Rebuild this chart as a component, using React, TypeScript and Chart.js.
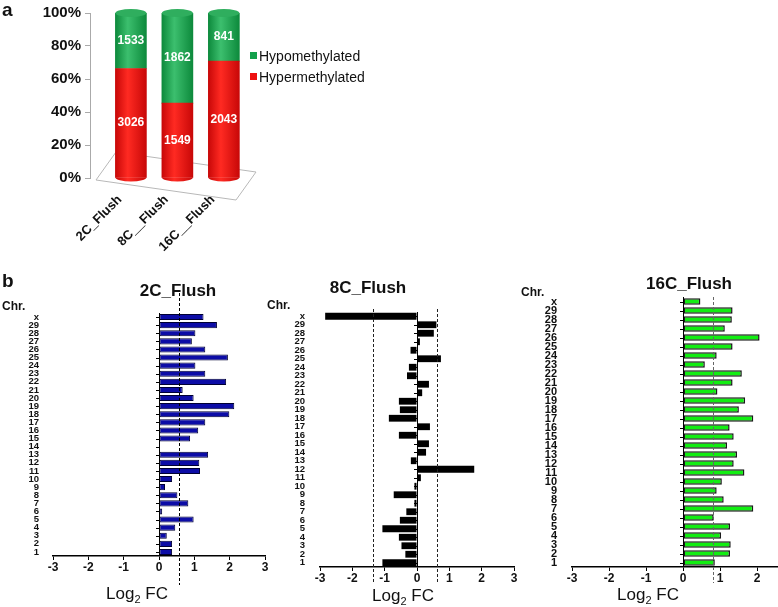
import React, { useEffect, useRef } from 'react';
import { Chart, registerables } from 'chart.js';

Chart.register(...registerables);

const FONT = "'Liberation Sans', Arial, Helvetica, sans-serif";
Chart.defaults.font.family = FONT;

// ---------- Panel a data ----------
const stages = ['2C_Flush', '8C__Flush', '16C__Flush'];
const hypoCounts = [1533, 1862, 841];
const hyperCounts = [3026, 1549, 2043];
const percentTicks = [0, 20, 40, 60, 80, 100];

// ---------- Panel b data (top to bottom) ----------
const chromosomes = ['x', '29', '28', '27', '26', '25', '24', '23', '22', '21', '20', '19', '18', '17', '16', '15', '14', '13', '12', '11', '10', '9', '8', '7', '6', '5', '4', '3', '2', '1'];
const fc2C = [1.26, 1.64, 1.03, 0.93, 1.31, 1.95, 1.03, 1.31, 1.9, 0.67, 0.98, 2.13, 1.99, 1.31, 1.11, 0.88, 0, 1.39, 1.14, 1.16, 0.37, 0.17, 0.52, 0.83, 0.09, 0.98, 0.46, 0.22, 0.37, 0.37];
const fc8C = [-2.84, 0.6, 0.52, 0.09, -0.2, 0.74, -0.25, -0.31, 0.37, 0.16, -0.56, -0.53, -0.87, 0.4, -0.56, 0.37, 0.28, -0.19, 1.77, 0.12, -0.08, -0.72, -0.08, -0.33, -0.53, -1.07, -0.56, -0.48, -0.36, -1.07];
const fc16C = [0.47, 1.34, 1.32, 1.13, 2.07, 1.34, 0.91, 0.59, 1.59, 1.34, 0.93, 1.68, 1.51, 1.9, 1.26, 1.37, 1.19, 1.46, 1.37, 1.66, 1.05, 0.91, 1.1, 1.9, 0.83, 1.27, 1.03, 1.29, 1.27, 0.86];
const fcTicks = [-3, -2, -1, 0, 1, 2, 3];
const cutoff2C = [0.56];
const cutoff8C = [-1.37, 0.63];
const cutoff16C = [0.82];

const BAR_W = 31;
const CAP = 4;

function MethylationChart() {
  const ref = useRef<HTMLCanvasElement>(null);
  useEffect(() => {
    const totals = hypoCounts.map((v, i) => v + hyperCounts[i]);
    const hyperPct = hyperCounts.map((v, i) => (v / totals[i]) * 100);
    const hypoPct = hypoCounts.map((v, i) => (v / totals[i]) * 100);

    const grad = (c: any, dark: string, light: string) => {
      const chart = c.chart;
      const xs = chart.scales && chart.scales.x;
      if (!xs || !chart.chartArea) return dark;
      const cx = xs.getPixelForValue(c.dataIndex);
      const g = chart.ctx.createLinearGradient(cx - BAR_W / 2, 0, cx + BAR_W / 2, 0);
      g.addColorStop(0, dark);
      g.addColorStop(0.4, light);
      g.addColorStop(1, dark);
      return g;
    };

    const floorPlugin = {
      id: 'floor',
      beforeDatasetsDraw(chart: any) {
        const { ctx, chartArea: a } = chart;
        ctx.save();
        ctx.strokeStyle = '#b8b8b8';
        ctx.lineWidth = 1;
        ctx.beginPath();
        ctx.moveTo(a.left + 6, a.bottom + 2);
        ctx.lineTo(a.right - 19, a.bottom + 22);
        ctx.lineTo(a.right + 1, a.bottom - 6);
        ctx.lineTo(a.left + 26, a.bottom - 26);
        ctx.closePath();
        ctx.stroke();
        ctx.restore();
      },
    };

    const cylPlugin = {
      id: 'cyl',
      afterDatasetsDraw(chart: any) {
        const ctx = chart.ctx;
        const hyperMeta = chart.getDatasetMeta(0);
        const hypoMeta = chart.getDatasetMeta(1);
        ctx.save();
        hyperMeta.data.forEach((el: any) => {
          const w = BAR_W;
          const g = ctx.createLinearGradient(el.x - w / 2, 0, el.x + w / 2, 0);
          g.addColorStop(0, '#c80808');
          g.addColorStop(0.4, '#ff2a22');
          g.addColorStop(1, '#c80808');
          ctx.fillStyle = g;
          ctx.beginPath();
          ctx.ellipse(el.x, el.base, w / 2, CAP, 0, 0, Math.PI);
          ctx.fill();
        });
        hypoMeta.data.forEach((el: any) => {
          const w = BAR_W;
          ctx.fillStyle = '#2fae5e';
          ctx.beginPath();
          ctx.ellipse(el.x, el.y, w / 2, CAP, 0, 0, Math.PI * 2);
          ctx.fill();
        });
        ctx.fillStyle = '#ffffff';
        ctx.font = `bold 12px ${FONT}`;
        ctx.textAlign = 'center';
        ctx.textBaseline = 'middle';
        hyperMeta.data.forEach((el: any, i: number) => {
          ctx.fillText(String(hyperCounts[i]), el.x, (el.y + el.base) / 2);
        });
        hypoMeta.data.forEach((el: any, i: number) => {
          ctx.fillText(String(hypoCounts[i]), el.x, (el.y + el.base) / 2);
        });
        ctx.restore();
      },
    };

    const chart = new Chart(ref.current as HTMLCanvasElement, {
      type: 'bar',
      data: {
        datasets: [
          {
            label: 'Hypermethylated',
            data: hyperPct.map((v, i) => ({ x: i, y: v })),
            backgroundColor: (c: any) => grad(c, '#c80808', '#ff2a22'),
            barThickness: BAR_W,
          },
          {
            label: 'Hypomethylated',
            data: hypoPct.map((v, i) => ({ x: i, y: v })),
            backgroundColor: (c: any) => grad(c, '#0d8a3c', '#3cbf6e'),
            barThickness: BAR_W,
          },
        ],
      },
      options: {
        animation: false,
        responsive: false,
        layout: { padding: { top: 8, right: 125, left: 0, bottom: 0 } },
        plugins: { legend: { display: false }, tooltip: { enabled: false } },
        scales: {
          x: {
            type: 'linear',
            stacked: true,
            offset: false,
            min: -0.88,
            max: 2.67,
            grid: { display: false, offset: false },
            border: { display: false },
            afterBuildTicks: (s: any) => {
              s.ticks = stages.map((_, i) => ({ value: i }));
            },
            afterFit: (s: any) => {
              s.height = 82;
            },
            ticks: {
              autoSkip: false,
              minRotation: 45,
              maxRotation: 45,
              labelOffset: -11,
              padding: 6,
              color: '#111',
              font: { size: 13, weight: 'bold' },
              callback: (v: any) => stages[v] ?? '',
            },
          },
          y: {
            stacked: true,
            min: 0,
            max: 100,
            afterBuildTicks: (s: any) => {
              s.ticks = percentTicks.map((v) => ({ value: v }));
            },
            afterFit: (s: any) => {
              s.width = 90;
            },
            grid: { drawOnChartArea: false, drawTicks: true, tickLength: 5, color: '#aaaaaa' },
            border: { color: '#aaaaaa' },
            ticks: {
              padding: 4,
              color: '#111',
              font: { size: 15, weight: 'bold' },
              callback: (v: any) => v + '%',
            },
          },
        },
      },
      plugins: [floorPlugin, cylPlugin],
    } as any);
    return () => chart.destroy();
  }, []);
  return (
    <canvas
      ref={ref}
      width={380}
      height={260}
      style={{ position: 'absolute', left: 0, top: 0, width: 380, height: 260 }}
    />
  );
}

type FcProps = {
  left: number;
  top: number;
  width: number;
  height: number;
  padTop: number;
  padRight: number;
  yAxisW: number;
  xAxisH: number;
  labelPad: number;
  values: number[];
  cutoffs: number[];
  fill: string;
  border: string;
  borderWidth: number;
  barPct: number;
  labelSize: number;
  dashColor: string;
  dashTop: number;
  dashBottom: number;
};

function FcChart(p: FcProps) {
  const ref = useRef<HTMLCanvasElement>(null);
  useEffect(() => {
    const zeroAxis = {
      id: 'zeroAxis',
      afterDatasetsDraw(chart: any) {
        const { ctx, chartArea: a, scales } = chart;
        const x0 = scales.x.getPixelForValue(0);
        ctx.save();
        ctx.strokeStyle = '#000';
        ctx.lineWidth = 1;
        ctx.beginPath();
        ctx.moveTo(x0 + 0.5, a.top);
        ctx.lineTo(x0 + 0.5, a.bottom);
        chromosomes.forEach((_, i) => {
          const y = Math.round(scales.y.getPixelForTick(i)) + 0.5;
          ctx.moveTo(x0 - 3, y);
          ctx.lineTo(x0, y);
        });
        ctx.stroke();
        ctx.strokeStyle = p.dashColor;
        ctx.setLineDash([3, 2]);
        ctx.beginPath();
        p.cutoffs.forEach((c) => {
          const x = Math.round(scales.x.getPixelForValue(c)) + 0.5;
          ctx.moveTo(x, a.top + p.dashTop);
          ctx.lineTo(x, a.bottom + p.dashBottom);
        });
        ctx.stroke();
        ctx.restore();
      },
    };
    const chart = new Chart(ref.current as HTMLCanvasElement, {
      type: 'bar',
      data: {
        labels: chromosomes,
        datasets: [
          {
            data: p.values,
            backgroundColor: p.fill,
            borderColor: p.border,
            borderWidth: p.borderWidth,
            borderSkipped: false,
            barPercentage: p.barPct,
            categoryPercentage: 1,
          },
        ],
      },
      options: {
        indexAxis: 'y',
        animation: false,
        responsive: false,
        layout: { padding: { top: p.padTop, right: p.padRight, left: 0, bottom: 0 } },
        plugins: { legend: { display: false }, tooltip: { enabled: false } },
        scales: {
          x: {
            type: 'linear',
            min: -3,
            max: 3,
            afterBuildTicks: (s: any) => {
              s.ticks = fcTicks.map((v) => ({ value: v }));
            },
            afterFit: (s: any) => {
              s.height = p.xAxisH;
            },
            grid: { drawOnChartArea: false, drawTicks: true, tickLength: 4, color: '#000', lineWidth: 1 },
            border: { color: '#000', width: 1.5 },
            ticks: {
              padding: 0,
              color: '#111',
              font: { size: 12, weight: 'bold' },
            },
          },
          y: {
            type: 'category',
            afterFit: (s: any) => {
              s.width = p.yAxisW;
            },
            grid: { display: false },
            border: { display: false },
            ticks: {
              autoSkip: false,
              padding: p.labelPad,
              color: '#111',
              font: { size: p.labelSize, weight: 'bold' },
            },
          },
        },
      },
      plugins: [zeroAxis],
    } as any);
    return () => chart.destroy();
  }, []);
  return (
    <canvas
      ref={ref}
      width={p.width}
      height={p.height}
      style={{ position: 'absolute', left: p.left, top: p.top, width: p.width, height: p.height }}
    />
  );
}

function Txt(props: { x: number; y: number; size: number; bold?: boolean; children: any; anchor?: 'left' | 'center' }) {
  const { x, y, size, bold, children, anchor = 'center' } = props;
  return (
    <div
      style={{
        position: 'absolute',
        left: x,
        top: y,
        transform: anchor === 'center' ? 'translate(-50%, -50%)' : 'translate(0, -50%)',
        fontSize: size,
        fontWeight: bold ? 'bold' : 'normal',
        fontFamily: FONT,
        lineHeight: 1,
        whiteSpace: 'nowrap',
        color: '#111',
      }}
    >
      {children}
    </div>
  );
}

function LogLabel({ x, y }: { x: number; y: number }) {
  return (
    <Txt x={x} y={y} size={17}>
      Log<sub style={{ fontSize: 11, verticalAlign: -4 }}>2</sub> FC
    </Txt>
  );
}

export default function App() {
  return (
    <div
      style={{
        position: 'absolute',
        left: 0,
        top: 0,
        width: 778,
        height: 607,
        overflow: 'hidden',
        background: '#ffffff',
        fontFamily: FONT,
      }}
    >
      <MethylationChart />
      <Txt x={2} y={9} size={19} bold anchor="left">a</Txt>
      <div style={{ position: 'absolute', left: 250, top: 52, width: 7, height: 7, background: '#13a04c' }} />
      <Txt x={259} y={56} size={14} anchor="left">Hypomethylated</Txt>
      <div style={{ position: 'absolute', left: 250, top: 73, width: 7, height: 7, background: '#ee1111' }} />
      <Txt x={259} y={77} size={14} anchor="left">Hypermethylated</Txt>

      <Txt x={2} y={280} size={19} bold anchor="left">b</Txt>

      <FcChart
        left={0}
        top={280}
        width={280}
        height={327}
        padTop={33}
        padRight={15}
        yAxisW={53}
        xAxisH={51}
        labelPad={6}
        values={fc2C}
        cutoffs={cutoff2C}
        fill="#0c0ca6"
        border="#000033"
        borderWidth={1}
        barPct={0.75}
        labelSize={9.5}
        dashColor="#000"
        dashTop={-20}
        dashBottom={29}
      />
      <FcChart
        left={260}
        top={280}
        width={270}
        height={327}
        padTop={32}
        padRight={16}
        yAxisW={60}
        xAxisH={40}
        labelPad={7}
        values={fc8C}
        cutoffs={cutoff8C}
        fill="#000000"
        border="#000000"
        borderWidth={0}
        barPct={0.8}
        labelSize={9.5}
        dashColor="#222"
        dashTop={-3}
        dashBottom={16}
      />
      <FcChart
        left={520}
        top={270}
        width={280}
        height={337}
        padTop={27}
        padRight={6}
        yAxisW={52}
        xAxisH={40}
        labelPad={7}
        values={fc16C}
        cutoffs={cutoff16C}
        fill="#12ee12"
        border="#1a1a1a"
        borderWidth={1.5}
        barPct={0.72}
        labelSize={11}
        dashColor="#666"
        dashTop={0}
        dashBottom={16}
      />

      <Txt x={178} y={290} size={17} bold>2C_Flush</Txt>
      <Txt x={368} y={287} size={17} bold>8C_Flush</Txt>
      <Txt x={689} y={283} size={17} bold>16C_Flush</Txt>
      <Txt x={2} y={306} size={12} bold anchor="left">Chr.</Txt>
      <Txt x={267} y={305} size={12} bold anchor="left">Chr.</Txt>
      <Txt x={521} y={292} size={12} bold anchor="left">Chr.</Txt>
      <LogLabel x={137} y={595} />
      <LogLabel x={403} y={597} />
      <LogLabel x={648} y={596} />
    </div>
  );
}
